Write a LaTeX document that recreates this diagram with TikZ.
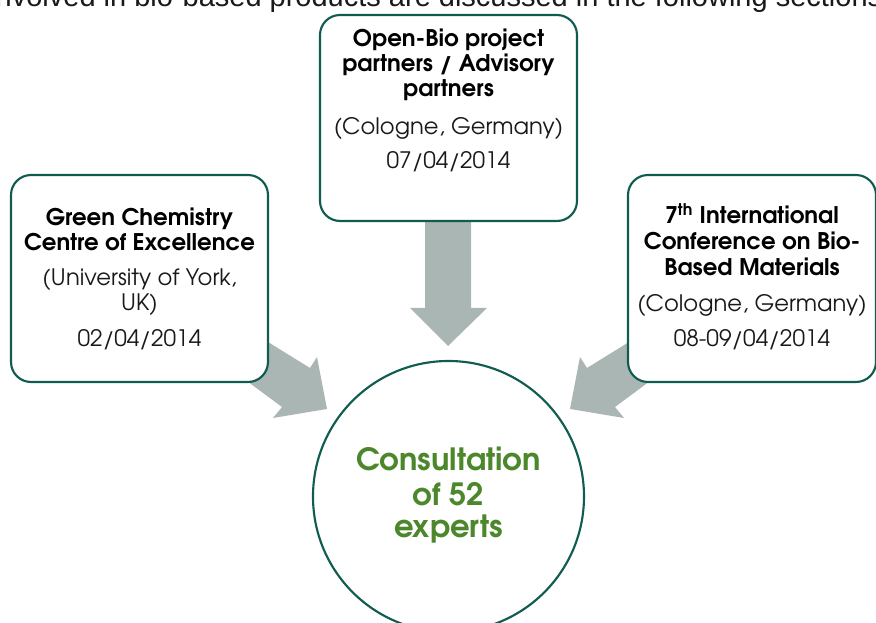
\documentclass[tikz,border=0pt]{standalone}
\usepackage{fontspec}
\setmainfont{texgyreadventor}[Extension=.otf,UprightFont=*-regular,BoldFont=*-bold]
\newfontfamily\arialf{Liberation Sans}
\definecolor{bordc}{RGB}{16,92,80}
\definecolor{arrc}{RGB}{170,182,179}
\definecolor{grn}{RGB}{76,135,43}
\definecolor{txt}{RGB}{25,25,25}
\begin{document}
\begin{tikzpicture}[x=0.75pt,y=-0.75pt,
  box/.style={draw=bordc, line width=1.6pt, rounded corners=15pt, fill=white, inner sep=0},
  bt/.style={font=\bfseries\fontsize{17.2}{20}\selectfont, inner sep=0, anchor=base, text=black},
  rt/.style={font=\fontsize{17}{20}\selectfont, inner sep=0, anchor=base, text=txt},
  ct/.style={font=\bfseries\fontsize{23}{27}\selectfont, inner sep=0, anchor=base, text=grn},
  blockarrow/.style={fill=arrc, draw=none}]
\useasboundingbox (0,0) rectangle (876,623);
\clip (0,0) rectangle (876,623);

% clipped running text at the top
\node[font=\arialf\fontsize{21.75}{26}\selectfont, inner sep=0, anchor=base west, text=txt] (head) at (-11,7)
  {involved in bio-based products are discussed in the following sections};

% block arrows
\fill[blockarrow] (425,200) -- (471,200) -- (471,308) -- (487,308) -- (448,346) -- (410,308) -- (425,308) -- cycle;
\fill[blockarrow] (251,331.5) -- (310,368) -- (317,357) -- (327,409) -- (273,418) -- (282,407) -- (232,370) -- cycle;
\fill[blockarrow] (646,331.5) -- (587,368) -- (580,357) -- (570,409) -- (624,418) -- (615,407) -- (665,370) -- cycle;

% boxes
\node[box, minimum width=192.75pt, minimum height=154.5pt] (top) at (448.5,118) {};
\node[box, minimum width=192.75pt, minimum height=155.25pt] (left) at (139.5,278.5) {};
\node[box, minimum width=186pt, minimum height=155.25pt] (right) at (752,278.5) {};
\node[circle, draw=bordc, line width=1.6pt, fill=white, minimum size=203.25pt, inner sep=0] (hub) at (448.5,496.5) {};

% top box text
\node[bt] (t1) at (448.5,47) {Open-Bio project};
\node[bt] (t2) at (448.5,72) {partners / Advisory};
\node[bt] (t3) at (448.5,97) {partners};
\node[rt] (t4) at (448.5,135) {(Cologne, Germany)};
\node[rt] (t5) at (448.5,169) {07/04/2014};

% left box text
\node[bt] (l1) at (139.5,226) {Green Chemistry};
\node[bt] (l2) at (139.5,251) {Centre of Excellence};
\node[rt] (l3) at (139.5,286) {(University of York,};
\node[rt] (l4) at (139.5,311) {UK)};
\node[rt] (l5) at (139.5,347) {02/04/2014};

% right box text
\node[bt] (r1) at (752,224) {7\textsuperscript{th} International};
\node[bt] (r2) at (752,250) {Conference on Bio-};
\node[bt] (r3) at (752,276) {Based Materials};
\node[rt] (r4) at (752,312) {(Cologne, Germany)};
\node[rt] (r5) at (752,347) {08-09/04/2014};

% circle text
\node[ct] (c1) at (448.5,471) {Consultation};
\node[ct] (c2) at (448.5,506) {of 52};
\node[ct] (c3) at (448.5,538) {experts};
\end{tikzpicture}
\end{document}
